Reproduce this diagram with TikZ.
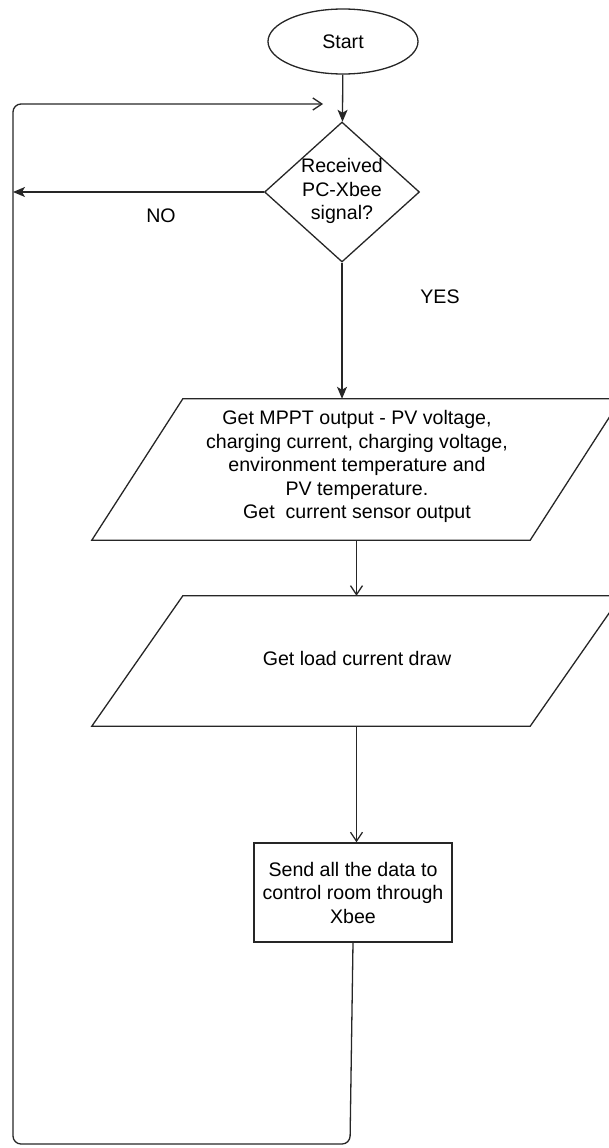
\documentclass[tikz,border=0pt]{standalone}
\usepackage{fontspec}
\setmainfont{Liberation Sans}
\usetikzlibrary{shapes.geometric,arrows.meta}
\begin{document}
\begin{tikzpicture}[x=1pt,y=-1pt,
  line/.style={draw=black!85, line width=1.3pt},
  filledtip/.style={-{Stealth[length=12pt,width=10pt,inset=3pt]}},
  opentip/.style={-{Straight Barb[length=9pt,width=12pt]}},
  txt/.style={font=\fontsize{19.6}{23.5}\selectfont, align=center, text=black, inner sep=0pt},
  shapebox/.style={draw=black!85, line width=1.3pt},
  pbox/.style={inner sep=0pt, minimum width=438pt},
]
\useasboundingbox (0,0) rectangle (609,1148);

% Start
\node (start) [ellipse, shapebox, txt, minimum width=150pt, minimum height=65pt] at (343,41.5) {Start};

% Decision
\node (dec) [diamond, shapebox, inner sep=0pt, minimum width=155pt, minimum height=140pt] at (342,192) {};
\node (dect) [txt] at (342,191) {Received\\PC-Xbee\\signal?};

% Parallelogram 1
\node (p1) [pbox, minimum height=141pt] at (356.5,469.5) {};
\draw[shapebox] ([xshift=45.5pt]p1.north west) -- ([xshift=45.5pt]p1.north east)
  -- ([xshift=-45.5pt]p1.south east) -- ([xshift=-45.5pt]p1.south west) -- cycle;
\node (p1t) [txt] at (357,466.5) {Get MPPT output - PV voltage,\\charging current, charging voltage,\\environment temperature and\\PV temperature.\\Get\ \ current sensor output};

% Parallelogram 2
\node (p2) [pbox, minimum height=130pt] at (356.5,661) {};
\draw[shapebox] ([xshift=45.5pt]p2.north west) -- ([xshift=45.5pt]p2.north east)
  -- ([xshift=-45.5pt]p2.south east) -- ([xshift=-45.5pt]p2.south west) -- cycle;
\node (p2t) [txt] at (357,658) {Get load current draw};

% Process box
\node (box) [shapebox, txt, minimum width=198pt, minimum height=99pt] at (353,892.5) {Send all the data to\\control room through\\Xbee};

% Labels
\node (no) [txt] at (161,216) {NO};
\node (yes) [txt] at (440,297) {YES};

% Loop coordinates
\coordinate (noend) at (13,192);
\coordinate (lbr) at (350,1144);
\coordinate (lbl) at (13,1144);
\coordinate (ltl) at (13,104);
\coordinate (lend) at (323,104);

% Connectors
\draw[line, filledtip] (start) -- (dec);
\draw[line, filledtip] (dec.west) -- (noend);
\draw[line, filledtip] (dec.south) -- (dec.south |- p1.north);
\draw[line, opentip] (p1.south) -- (p2.north);
\draw[line, opentip] (p2.south) -- (p2.south |- box.north);
\draw[line, opentip, rounded corners=8pt] (box.south) -- (lbr) -- (lbl) -- (ltl) -- (lend);
\end{tikzpicture}
\end{document}
